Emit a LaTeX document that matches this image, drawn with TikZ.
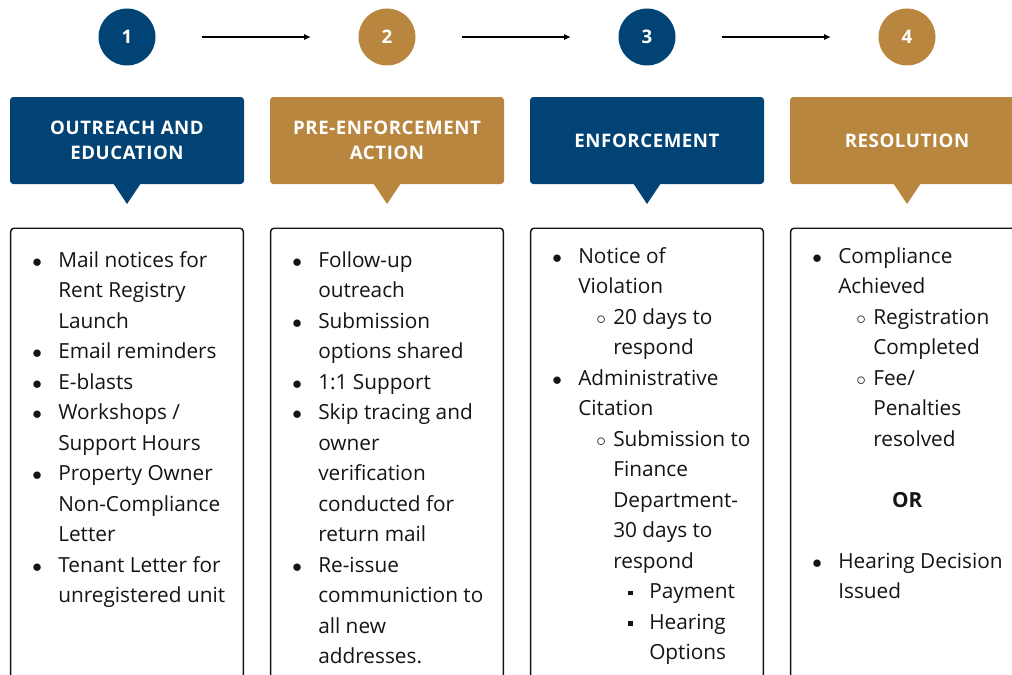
\documentclass[tikz,border=0pt]{standalone}
\usepackage{fontspec}
\setmainfont{Open Sans}
\newfontfamily\headfont[LetterSpace=3]{Open Sans}
\usepackage{enumitem}
\usetikzlibrary{arrows.meta}

\definecolor{navy}{RGB}{1,67,117}
\definecolor{gold}{RGB}{185,134,63}
\definecolor{ink}{RGB}{20,20,20}

\setlist{nosep}
\setlist[itemize,1]{label=\makebox[0pt]{$\bullet$}, labelwidth=0pt, labelsep=15.75pt, leftmargin=36pt}
\setlist[itemize,2]{label=\makebox[0pt]{$\circ$}, labelwidth=0pt, labelsep=9pt, leftmargin=26.25pt}
\setlist[itemize,3]{label=\makebox[0pt]{\rule[2.4pt]{3.6pt}{3.6pt}}, labelwidth=0pt, labelsep=14.25pt, leftmargin=27pt}

\begin{document}
\begin{tikzpicture}[x=0.75pt, y=-0.75pt,
    stepnum/.style={circle, minimum size=42.75pt, inner sep=0pt, text=white,
                    font=\headfont\bfseries\fontsize{14}{16}\selectfont},
    headbox/.style={rectangle, rounded corners=2.5pt, minimum width=175.5pt,
                    minimum height=65.25pt, inner sep=0pt, align=center, text=white,
                    font=\headfont\bfseries\fontsize{14}{18.4}\selectfont},
    listbox/.style={draw=ink, line width=1.1pt, rounded corners=2.5pt, minimum width=174.5pt,
                    minimum height=354.75pt, inner sep=0pt},
    listtext/.style={inner sep=0pt, text=ink, font=\fontsize{15.6}{22.875}\selectfont},
    flowarrow/.style={-{Latex[length=5pt,width=4.5pt]}, line width=0.9pt,
                      shorten <=35pt, shorten >=35.5pt}]
\useasboundingbox (0,0) rectangle (1012,674);
\clip (0,0) rectangle (1012,674);

\foreach \i/\col/\head in {1/navy/{OUTREACH AND\\EDUCATION},
                           2/gold/{PRE-ENFORCEMENT\\ACTION},
                           3/navy/{ENFORCEMENT},
                           4/gold/{RESOLUTION}} {
  \pgfmathsetmacro\cx{127+260*(\i-1)}
  \node[stepnum, fill=\col] (num\i) at (\cx,37) {\i};
  \node[headbox, fill=\col] (head\i) at (\cx,140.5) {\head};
  \fill[\col] (\cx-14,183) -- (\cx,204) -- (\cx+14,183) -- cycle;
  \node[listbox, anchor=north] (box\i) at (\cx,227.5) {};
}

\foreach \a/\b in {1/2,2/3,3/4}
  \draw[flowarrow] (num\a) -- (num\b);

\node[listtext, anchor=base west] (txt1) at (10,267) {\begin{minipage}[t]{175.5pt}
\begin{itemize}
\item Mail notices for\\Rent Registry\\Launch
\item Email reminders
\item E-blasts
\item Workshops /\\Support Hours
\item Property Owner\\Non-Compliance\\Letter
\item Tenant Letter for\\unregistered unit
\end{itemize}
\end{minipage}};

\node[listtext, anchor=base west] (txt2) at (270,267) {\begin{minipage}[t]{175.5pt}
\begin{itemize}
\item Follow-up\\outreach
\item Submission\\options shared
\item 1:1 Support
\item Skip tracing and\\owner\\verification\\conducted for\\return mail
\item Re-issue\\communiction to\\all new\\addresses.
\end{itemize}
\end{minipage}};

\node[listtext, anchor=base west] (txt3) at (530,263) {\begin{minipage}[t]{175.5pt}
\begin{itemize}
\item Notice of\\Violation
  \begin{itemize}
  \item 20 days to\\respond
  \end{itemize}
\item Administrative\\Citation
  \begin{itemize}
  \item Submission to\\Finance\\Department-\\30 days to\\respond
    \begin{itemize}
    \item Payment
    \item Hearing\\Options
    \end{itemize}
  \end{itemize}
\end{itemize}
\end{minipage}};

\node[listtext, anchor=base west] (txt4) at (790,263) {\begin{minipage}[t]{175.5pt}
\begin{itemize}
\item Compliance\\Achieved
  \begin{itemize}
  \item Registration\\Completed
  \item Fee/\\Penalties\\resolved
  \end{itemize}
\end{itemize}
\par\vspace{\baselineskip}
\noindent\makebox[\linewidth]{\bfseries OR}\par
\vspace{\baselineskip}
\begin{itemize}
\item Hearing Decision\\Issued
\end{itemize}
\end{minipage}};
\end{tikzpicture}
\end{document}
